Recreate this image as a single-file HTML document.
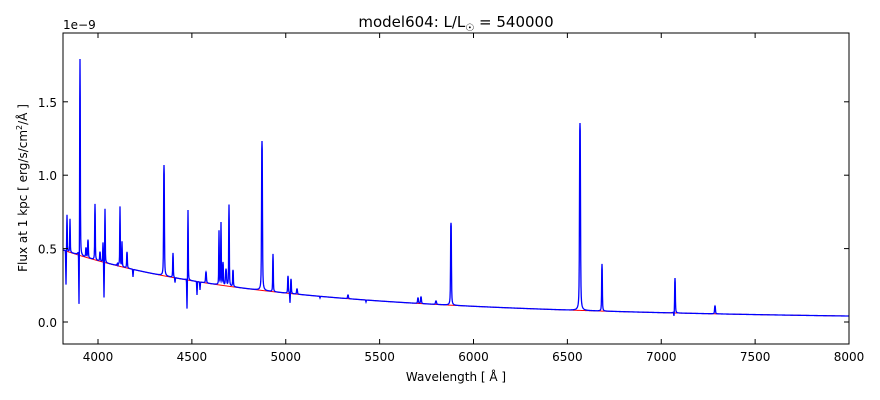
<!DOCTYPE html>
<html><head><meta charset="utf-8"><style>
html,body{margin:0;padding:0;background:#fff;}
svg{display:block;font-family:"DejaVu Sans","Liberation Sans",sans-serif;}
</style></head><body>
<svg id="s" width="880" height="400" xmlns="http://www.w3.org/2000/svg">
<rect width="880" height="400" fill="#fff"/>
<g id="plot"></g>
<rect x="63" y="33" width="786" height="311" fill="none" stroke="#000" stroke-width="1"/>
<g id="ticks" stroke="#000" stroke-width="1"></g>
<g id="labels" font-size="12" fill="#000"></g>
<text x="456" y="27" font-size="15" text-anchor="middle">model604: L/L<tspan font-size="10" dy="4">☉</tspan><tspan dy="-4"> = 540000</tspan></text>
<text x="63" y="29" font-size="12">1e−9</text>
<text x="456" y="381" font-size="12" text-anchor="middle">Wavelength [ Å ]</text>
<text transform="translate(27,188) rotate(-90)" font-size="12" text-anchor="middle">Flux at 1 kpc [ erg/s/cm<tspan font-size="8" dy="-5">2</tspan><tspan dy="5">/Å ]</tspan></text>
</svg>
<script>
var NS="http://www.w3.org/2000/svg";
function el(t,a,p){var e=document.createElementNS(NS,t);for(var k in a)e.setAttribute(k,a[k]);p.appendChild(e);return e;}
var plot=document.getElementById('plot'),ticks=document.getElementById('ticks'),labels=document.getElementById('labels');
function lam(px){return 3800+(px-63)/0.18775;}
function cont(px){return 322-0.49*Math.pow(3800/lam(px),3.35)*146.8;}
var em=[[67,215,0.3],[70,219,0.3],[80,59,0.35],[86,248,0.4],[88,240,0.4],[95,204,0.35],[100,252,0.4],[103,243,0.3],[105,209,0.3],[118,233,0.3],[120,207,0.3],[122,242,0.3],[127,252,0.4],[164,165,0.45],[173,253,0.35],[188,210,0.3],[206,272,0.5],[219,231,0.3],[221,223,0.3],[223,263,0.4],[226,270,0.6],[229,205,0.35],[233,262,0.35],[262,141,0.5],[273,254,0.35],[288,276,0.4],[291,279,0.4],[297,289,0.5],[348,295,0.5],[418,298,0.5],[421,297,0.5],[436,301,0.6],[451,212,0.45],[580,123,0.55],[602,264,0.4],[675,278,0.4],[715,306,0.5]];
var ab=[[66,286],[79,313],[104,300],[118,300],[133,277],[175,283],[187,311],[197,295],[200,290],[233,295],[290,304],[366,302],[451,316],[674,318],[320,298]];
var d="",dr="";
for(var x=63;x<=849;x+=0.25){
 var c=cont(x),y=c;
 for(var i=0;i<em.length;i++){var e=em[i],A=c-e[1],u=(x-e[0])/e[2];y-=A/(1+u*u*u*u)*0.9+A*0.1/(1+u*u/4);}
 for(var j=0;j<ab.length;j++){var a=ab[j],B=a[1]-c,v=(x-a[0])/0.35;y+=B*Math.exp(-v*v);}
 d+=(x==63?"M":"L")+x.toFixed(2)+","+y.toFixed(2);
 dr+=(x==63?"M":"L")+x.toFixed(2)+","+c.toFixed(2);
}
el('path',{d:dr,fill:"none",stroke:"#f00","stroke-width":1},plot);
el('path',{d:d,fill:"none",stroke:"#00f","stroke-width":1.3},plot);
for(var k=0;k<=8;k++){var px=98+93.875*k;
 el('line',{x1:px,y1:344,x2:px,y2:339},ticks);el('line',{x1:px,y1:33,x2:px,y2:38},ticks);
 var t=el('text',{x:px,y:361,"text-anchor":"middle"},labels);t.textContent=4000+500*k;}
var yv=[[322,"0.0"],[248.6,"0.5"],[175.2,"1.0"],[101.8,"1.5"]];
for(var m=0;m<yv.length;m++){var py=yv[m][0];
 el('line',{x1:63,y1:py,x2:68,y2:py},ticks);el('line',{x1:849,y1:py,x2:844,y2:py},ticks);
 var t2=el('text',{x:57,y:py+5,"text-anchor":"end"},labels);t2.textContent=yv[m][1];}
</script>
</body></html>
